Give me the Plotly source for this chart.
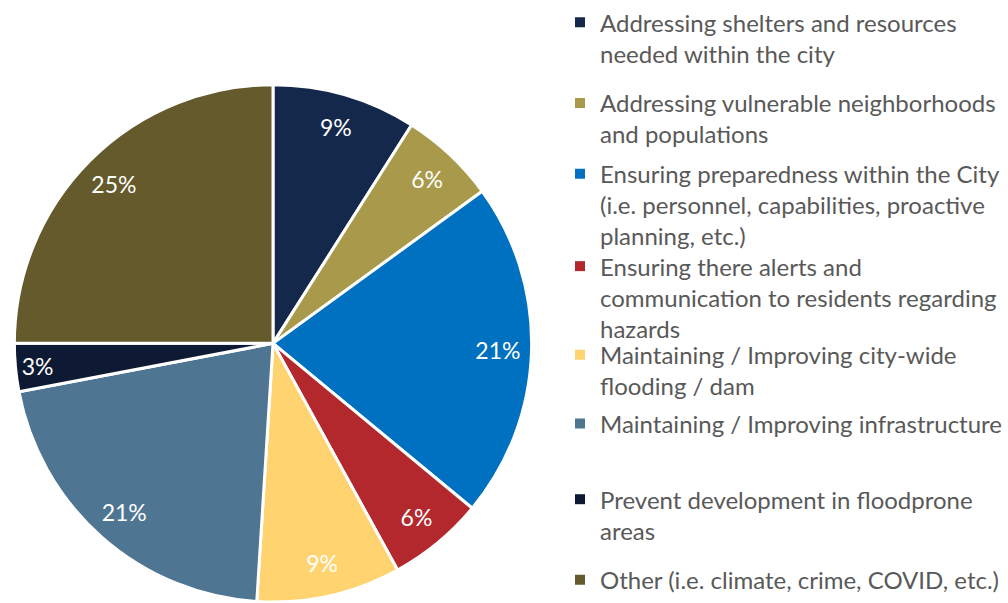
import plotly.graph_objects as go

# Survey categories, share of responses (%) and slice colours
categories = [
    "Addressing shelters and resources<br>needed within the city",
    "Addressing vulnerable neighborhoods<br>and populations",
    "Ensuring preparedness within the City<br>(i.e. personnel, capabilities, proactive<br>planning, etc.)",
    "Ensuring there alerts and<br>communication to residents regarding<br>hazards",
    "Maintaining / Improving city-wide<br>flooding / dam",
    "Maintaining / Improving infrastructure",
    "Prevent development in floodprone<br>areas",
    "Other (i.e. climate, crime, COVID, etc.)",
]
shares = [9, 6, 21, 6, 9, 21, 3, 25]
colors = ["#14284B", "#A89A4A", "#0070C0", "#B2282D",
          "#FFD470", "#4E7592", "#0E1A33", "#655A2B"]

W, H = 1008, 603
FONT = "Lato"
TEXT_GREY = "#595959"

# Pie placement (pixels): centre and radius
cx, cy, r = 273, 340, 263
pie_domain = dict(x=[(cx - r) / W, (cx + r) / W], y=[0, (2 * r) / H])

fig = go.Figure()

# Main pie: slices with white separators
fig.add_trace(go.Pie(
    labels=categories, values=shares, sort=False, direction="clockwise",
    rotation=0, domain=pie_domain,
    marker=dict(colors=colors, line=dict(color="white", width=3)),
    textinfo="none", showlegend=False, hoverinfo="label+percent",
))

# Transparent ring on top so the percentage labels sit near the rim
fig.add_trace(go.Pie(
    labels=categories, values=shares, sort=False, direction="clockwise",
    rotation=0, domain=pie_domain, hole=0.74,
    marker=dict(colors=["rgba(0,0,0,0)"] * len(shares), line=dict(width=0)),
    texttemplate="%{percent:.0%}", textposition="inside",
    insidetextorientation="horizontal",
    textfont=dict(family=FONT, size=23, color="white"),
    showlegend=False, hoverinfo="skip",
))

# Legend: one entry per category, each placed by the pixel row of its first line
legend_rows_px = [18, 100, 172, 266, 356, 423, 503, 582]
legend_x = 560 / W
layout_legends = {}
for i, (name, col) in enumerate(zip(categories, colors)):
    key = "legend" if i == 0 else f"legend{i + 1}"
    fig.add_trace(go.Scatter(
        x=[None], y=[None], mode="markers", name=name,
        marker=dict(symbol="square", size=10, color=col),
        legend=key, showlegend=True, hoverinfo="skip",
    ))
    offset = 27 if "<br>" in name else 24
    top_px = legend_rows_px[i] - offset
    layout_legends[key] = dict(
        x=legend_x, xanchor="left", y=1 - top_px / H, yanchor="top",
        valign="top",
        font=dict(family=FONT, size=24, color=TEXT_GREY),
        bgcolor="rgba(0,0,0,0)", borderwidth=0,
    )

fig.update_layout(
    width=W, height=H, autosize=False,
    margin=dict(l=0, r=0, t=0, b=0),
    paper_bgcolor="white", plot_bgcolor="white",
    xaxis=dict(visible=False), yaxis=dict(visible=False),
    font=dict(family=FONT),
    **layout_legends,
)

fig.write_html("out.html")
